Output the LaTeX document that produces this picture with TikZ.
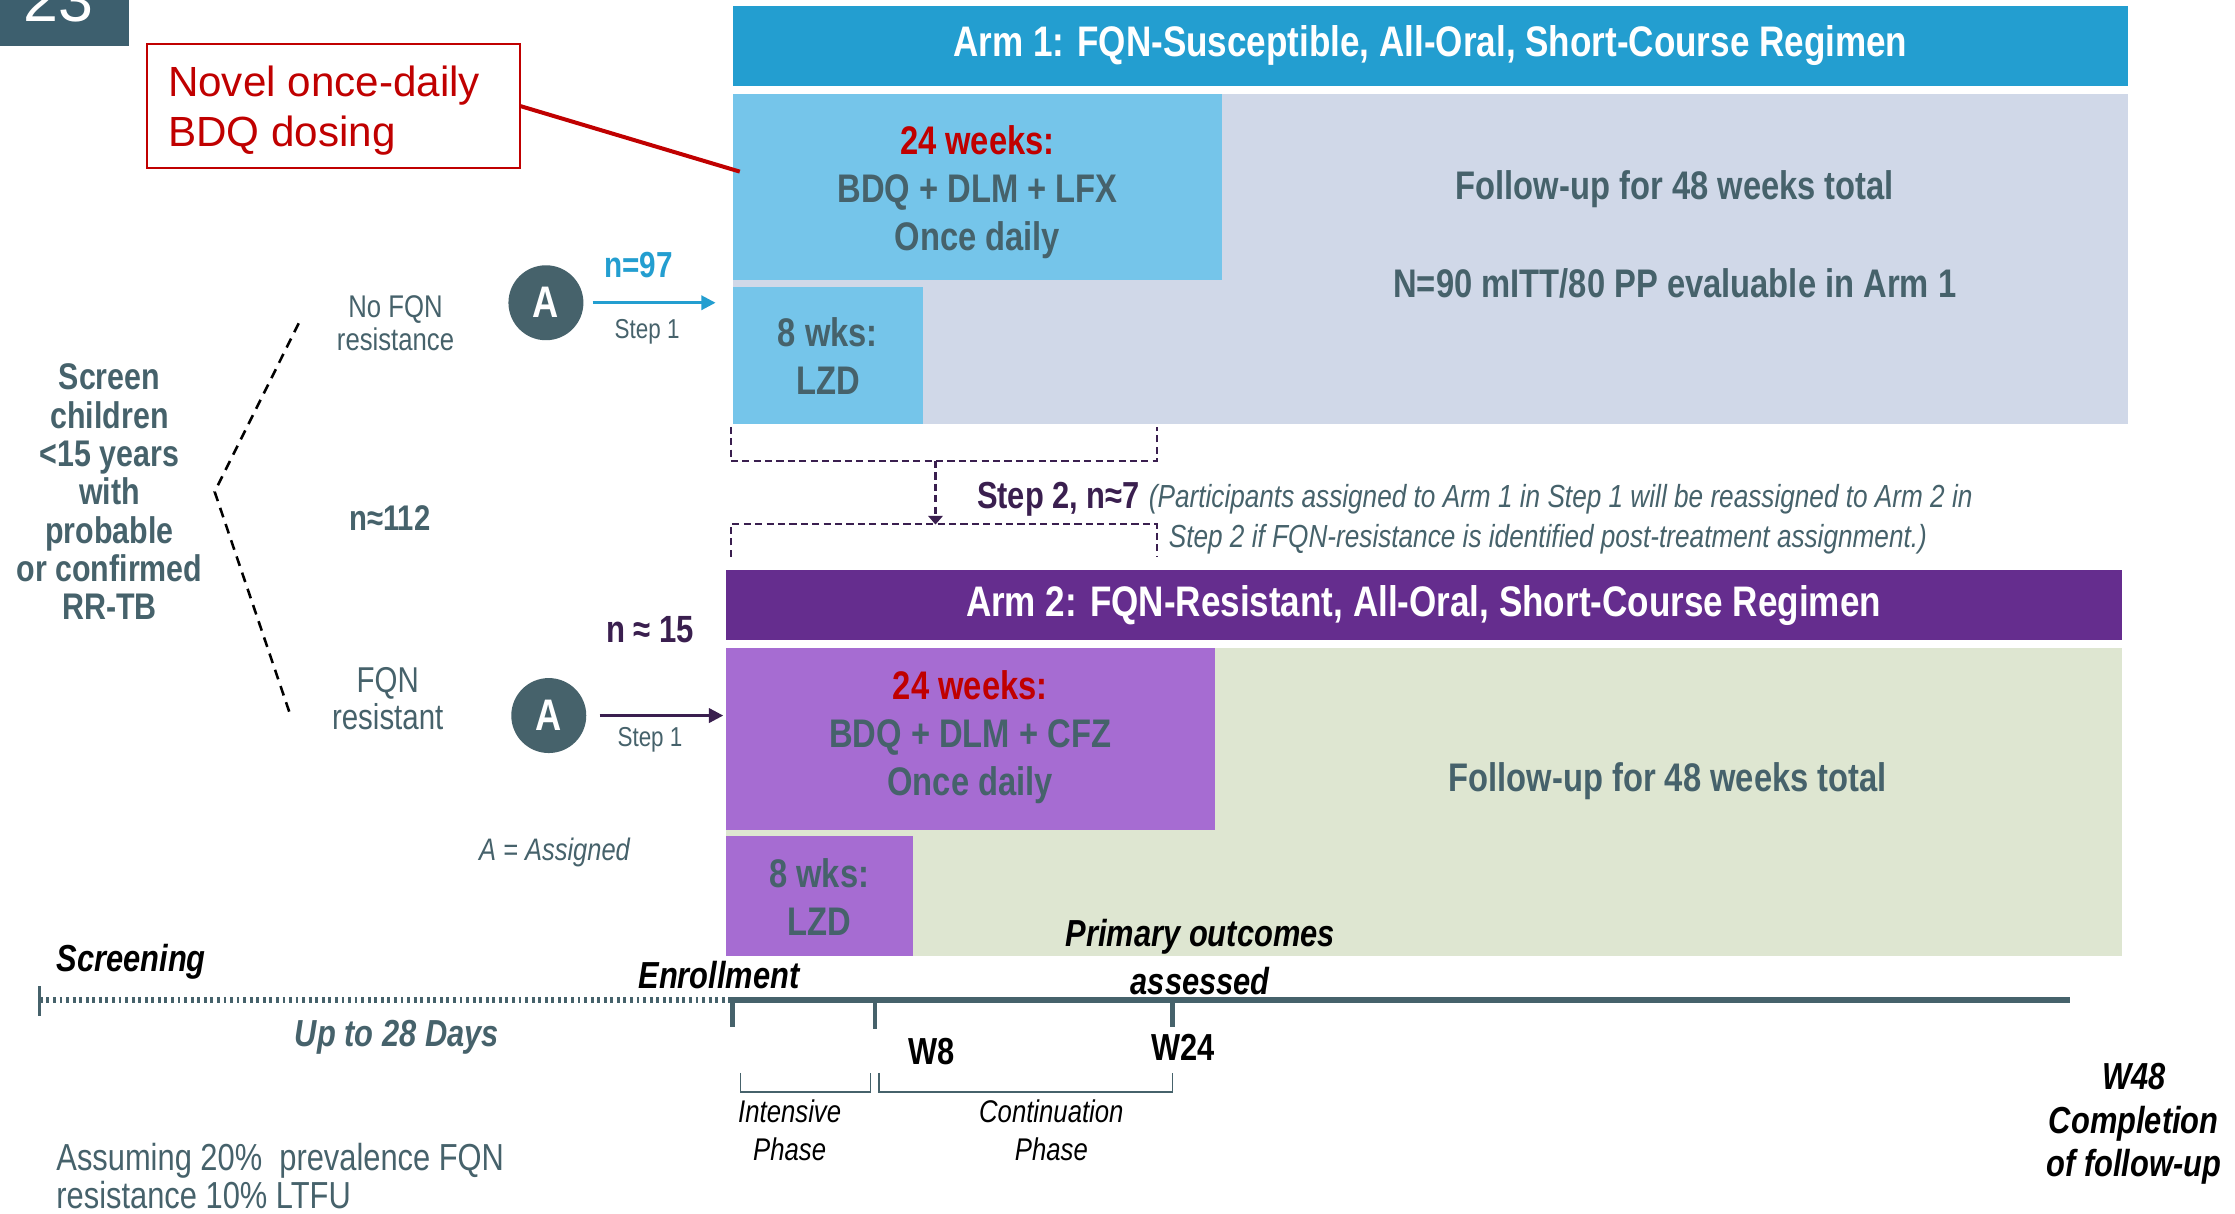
\documentclass[tikz,border=0pt]{standalone}
\usepackage{fontspec}
\setmainfont{Liberation Sans}
\newfontfamily\narrowsans{Liberation Sans}[FakeStretch=0.82]
\usetikzlibrary{arrows.meta,calc}

\definecolor{armblue}{HTML}{239ED0}
\definecolor{lightblue}{HTML}{75C5EA}
\definecolor{greybox}{HTML}{D0D8E8}
\definecolor{armpurple}{HTML}{652D8E}
\definecolor{boxpurple}{HTML}{A66CD2}
\definecolor{greenbox}{HTML}{DEE6D1}
\definecolor{slate}{HTML}{46626B}
\definecolor{numbox}{HTML}{3D5F6E}
\definecolor{darkpurple}{HTML}{3A1F4F}
\definecolor{alertred}{HTML}{C00000}

\newcommand\fsz[2]{\fontsize{#1}{#2}\selectfont}

\tikzset{
  panel/.style={draw=none, inner sep=0pt, outer sep=0pt, anchor=north west},
  txt/.style={inner sep=0pt, outer sep=0pt, align=center, text=slate},
  boldtxt/.style={txt, font=\narrowsans\bfseries\fsz{14}{16.8}},
  headtxt/.style={inner sep=0pt, text=white, font=\narrowsans\bfseries\fsz{15}{18}},
  timetxt/.style={inner sep=0pt, outer sep=0pt, align=center, text=black,
                  font=\narrowsans\bfseries\itshape\fsz{13.2}{15.4}},
  assign/.style={circle, fill=slate, text=white, inner sep=0pt,
                 minimum size=26.3pt, font=\narrowsans\bfseries\fsz{15.5}{16}},
  treedash/.style={black, line width=0.9pt, dash pattern=on 3.5pt off 2.5pt},
  stepdash/.style={darkpurple, line width=0.8pt, dash pattern=on 2.5pt off 1.5pt},
  headarrow/.style={-{Triangle[length=5pt,width=5pt]}, line width=1pt},
  axisline/.style={slate, line width=2.2pt},
  axistick/.style={slate, line width=1.6pt},
  phasebrace/.style={slate, line width=0.6pt},
}

\begin{document}
\begin{tikzpicture}[x=0.5pt,y=-0.5pt]
\useasboundingbox (0,0) rectangle (1568,851);
\fill[white] (0,0) rectangle (1568,851);

% slide number tab
\node[panel, fill=numbox, minimum width=45.2pt, minimum height=16pt] (numtab) at (0,0) {};
\begin{scope}
  \clip (numtab.north west) rectangle (numtab.south east);
  \node[anchor=base west, inner sep=0pt, text=white, font=\fsz{22}{24}] (numtxt) at (16,15.2) {23};
\end{scope}

% ---------- Arm 1 ----------
\node[panel, fill=armblue, minimum width=489.5pt, minimum height=28pt] (arm1) at (514,4) {};
\node[headtxt] (arm1t) at (arm1.center) {Arm 1: FQN-Susceptible, All-Oral, Short-Course Regimen};
\node[panel, fill=greybox, minimum width=489.5pt, minimum height=115.75pt] (fup1) at (514,66) {};
\node[panel, fill=lightblue, minimum width=171.75pt, minimum height=65.25pt] (blue24) at (514,66) {};
\node[panel, fill=lightblue, minimum width=66.8pt, minimum height=48.25pt] (blue8) at (514,201) {};

\node[boldtxt] (blue24t) at (685.7,135) {{\color{alertred}24 weeks:}\\BDQ + DLM + LFX\\Once daily};
\node[boldtxt] (blue8t) at (580.8,250) {8 wks:\\LZD};
\node[boldtxt] (fup1a) at (1175,133) {Follow-up for 48 weeks total};
\node[boldtxt] (fup1b) at (1175,199) {N=90 mITT/80 PP evaluable in Arm 1};

% ---------- Arm 2 ----------
\node[panel, fill=armpurple, minimum width=489.7pt, minimum height=24.5pt] (arm2) at (509,400) {};
\node[headtxt] (arm2t) at (arm2.center) {Arm 2: FQN-Resistant, All-Oral, Short-Course Regimen};
\node[panel, fill=greenbox, minimum width=489.7pt, minimum height=107.95pt] (fup2) at (509,454.6) {};
\node[panel, fill=boxpurple, minimum width=171.7pt, minimum height=63.7pt] (purp24) at (509,454.6) {};
\node[panel, fill=boxpurple, minimum width=65.75pt, minimum height=42pt] (purp8) at (509,586.5) {};

\node[boldtxt] (purp24t) at (680.7,517) {{\color{alertred}24 weeks:}\\BDQ + DLM + CFZ\\Once daily};
\node[boldtxt] (purp8t) at (574.7,629.5) {8 wks:\\LZD};
\node[boldtxt] (fup2a) at (1170,548) {Follow-up for 48 weeks total};

% ---------- call-out ----------
\node[panel, draw=alertred, line width=0.8pt, fill=white, minimum width=131pt,
      minimum height=43.3pt] (callout) at (103,31.1) {};
% base anchor of a two-line node sits on the last line
\node[anchor=base west, inner sep=0pt, align=left, text=alertred, font=\fsz{14.8}{17.5}]
  (callouttxt) at (117.5,103) {Novel once-daily\\BDQ dosing};
\coordinate (calltip) at ($(blue24.north west)+(2.5pt,-27.2pt)$);
\draw[alertred, line width=1.4pt] (callout.east) -- (calltip);

% ---------- screening split ----------
\node[txt, font=\narrowsans\bfseries\fsz{13}{13.45}] (screen) at (76.8,345)
  {Screen\\children\\<15 years\\with\\probable\\or confirmed\\RR-TB};
\coordinate (splitTop) at (209.6,226.8);
\coordinate (splitMid) at (150.6,345);
\coordinate (splitBot) at (203.7,501.6);
\draw[treedash] (splitTop) -- (splitMid) -- (splitBot);

\node[txt, font=\narrowsans\fsz{11}{11.75}] (nofqn) at (277.5,226.8) {No FQN\\resistance};
\node[txt, font=\narrowsans\bfseries\fsz{12.5}{14}] (ntotal) at (273.5,363.6) {n≈112};
\node[txt, font=\narrowsans\fsz{12.6}{12.9}] (fqnres) at (272,490) {FQN\\resistant};

\node[assign] (A1) at (383,212.4) {A};
\node[assign] (A2) at (385,502) {A};

\draw[headarrow, armblue, shorten <=3pt, shorten >=6pt] (A1.east) -- (A1.east -| blue8.west);
\draw[headarrow, darkpurple, shorten <=4.5pt, shorten >=0.8pt] (A2.east) -- (A2.east -| purp24.west);

\node[txt, text=armblue, font=\narrowsans\bfseries\fsz{12.7}{14}] (n97) at (448,186) {n=97};
\node[txt, font=\narrowsans\fsz{9.6}{11}] (step1a) at (454,233) {Step 1};
\node[txt, text=darkpurple, font=\narrowsans\bfseries\fsz{13.3}{15}] (n15) at (456,442) {n ≈ 15};
\node[txt, font=\narrowsans\fsz{9.6}{11}] (step1b) at (456,519) {Step 1};
\node[txt, font=\narrowsans\itshape\fsz{10.9}{12}] (akey) at (389,598) {A = Assigned};

% ---------- step 2 reassignment ----------
\coordinate (s2a) at (512.6,299.5);
\coordinate (s2b) at (811.7,299.5);
\coordinate (s2c) at (512.6,390.6);
\coordinate (s2d) at (811.7,390.6);
\draw[stepdash] (s2a) -- (512.6,323.4) -- (811.7,323.4) -- (s2b);
\draw[stepdash] (s2c) -- (512.6,367.8) -- (811.7,367.8) -- (s2d);
\coordinate (s2from) at (656.3,323.4);
\coordinate (s2to) at (656.3,368);
\draw[stepdash, -{Triangle[length=3pt,width=5pt]}] (s2from) -- (s2to);

\node[txt, text=darkpurple, font=\narrowsans\bfseries\fsz{13.2}{15}] (step2) at (742.5,350) {Step 2, n≈7};
\node[txt, anchor=west, font=\narrowsans\itshape\fsz{11.2}{13}] (note1) at (806,350)
  {(Participants assigned to Arm 1 in Step 1 will be reassigned to Arm 2 in};
\node[txt, anchor=west, font=\narrowsans\itshape\fsz{11.2}{13}] (note2) at (820,378)
  {Step 2 if FQN-resistance is identified post-treatment assignment.)};

% ---------- timeline ----------
\coordinate (tStart) at (28,701.6);
\coordinate (tEnroll) at (512,701.6);
\coordinate (tEnd) at (1452,701.6);
\draw[slate, line width=2pt, dash pattern=on 1pt off 1.3pt] (tStart) -- (tEnroll);
\draw[slate, line width=1pt] (28,692) -- (28,713);
\draw[axisline] (tEnroll) -- (tEnd);
\coordinate (w0) at (514,701.6);
\coordinate (w8) at (614,701.6);
\coordinate (w24) at (822.6,701.6);
\draw[axistick] (w0) -- ++(0,19);
\draw[axistick] (w8) -- ++(0,20);
\draw[axistick] (w24) -- ++(0,19);

\draw[phasebrace] (519.5,752.6) -- (519.5,766) -- (610.8,766) -- (610.8,752.6);
\draw[phasebrace] (616.7,752.6) -- (616.7,766) -- (822.6,766) -- (822.6,752.6);

\node[timetxt] (screening) at (92,674.7) {Screening};
\node[timetxt] (enroll) at (504.5,684) {Enrollment};
\node[timetxt] (primary) at (842,671.5) {Primary outcomes\\[1.5pt]assessed};
\node[timetxt, text=slate] (upto) at (278.4,728) {Up to 28 Days};
\node[timetxt, font=\narrowsans\bfseries\fsz{13.2}{15}] (lw8) at (653.5,737.8) {W8};
\node[timetxt, font=\narrowsans\bfseries\fsz{13.2}{15}] (lw24) at (829.8,735) {W24};
\node[timetxt, font=\narrowsans\itshape\fsz{11}{13.25}] (intens) at (554,793) {Intensive\\Phase};
\node[timetxt, font=\narrowsans\itshape\fsz{11}{13.25}] (contin) at (737.6,793) {Continuation\\Phase};
\node[timetxt, font=\narrowsans\bfseries\itshape\fsz{13.2}{15.2}] (w48) at (1497,788.4)
  {W48\\Completion\\of follow-up};

\node[txt, anchor=north west, align=left, font=\narrowsans\fsz{13.2}{13.4}] (assume) at (39.6,802)
  {Assuming 20\%\ \ prevalence FQN\\resistance 10\% LTFU};
\end{tikzpicture}
\end{document}
